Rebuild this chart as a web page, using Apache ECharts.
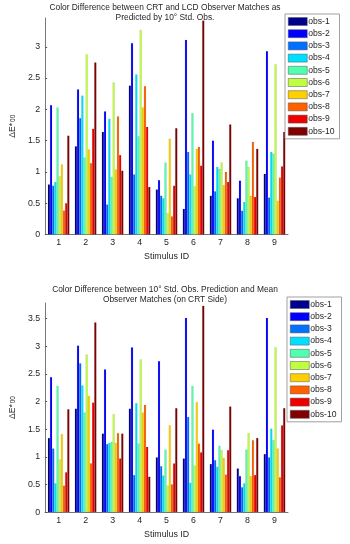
<!DOCTYPE html>
<html>
<head>
<meta charset="utf-8">
<script src="https://cdn.jsdelivr.net/npm/echarts@6/dist/echarts.min.js"></script>
<style>
html,body{margin:0;padding:0;background:#fff;}
#c1,#c2{width:350px;height:272px;}
</style>
</head>
<body>
<div id="c1"></div>
<div id="c2"></div>
<script>
// ---- data ----
var categories = ['1','2','3','4','5','6','7','8','9'];
var observers = ['obs-1','obs-2','obs-3','obs-4','obs-5','obs-6','obs-7','obs-8','obs-9','obs-10'];
var yTicksTop = [0, 0.5, 1, 1.5, 2, 2.5, 3];
var yTicksBottom = [0, 0.5, 1, 1.5, 2, 2.5, 3, 3.5];
var titleTop = 'Color Difference between CRT and LCD Observer Matches as\nPredicted by 10° Std. Obs.';
var titleBottom = 'Color Difference between 10° Std. Obs. Prediction and Mean\nObserver Matches (on CRT Side)';
var xName = 'Stimulus ID';

// top chart: rows = observers, columns = stimulus 1..9
var top_obs1  = [0.80, 1.41, 1.64, 2.38, 0.72, 0.41, 0.62, 0.58, 0.97];
var top_obs2  = [2.07, 2.32, 1.97, 3.06, 0.87, 3.11, 1.50, 0.86, 2.93];
var top_obs3  = [0.78, 1.86, 0.48, 0.96, 0.62, 1.32, 0.69, 0.38, 0.59];
var top_obs4  = [0.84, 2.22, 1.85, 2.56, 0.58, 0.96, 1.08, 0.52, 1.32];
var top_obs5  = [2.03, 1.23, 0.92, 1.57, 1.15, 1.94, 1.05, 1.18, 1.29];
var top_obs6  = [0.93, 2.88, 2.43, 3.27, 0.34, 0.77, 1.15, 1.08, 2.72];
var top_obs7  = [1.12, 1.36, 1.04, 2.03, 1.53, 1.37, 0.79, 0.62, 0.54];
var top_obs8  = [0.38, 1.14, 1.89, 2.37, 0.29, 1.40, 1.00, 1.48, 0.91];
var top_obs9  = [0.50, 1.69, 1.27, 1.72, 0.78, 1.10, 0.84, 0.60, 1.09];
var top_obs10 = [1.58, 2.75, 1.02, 0.76, 1.70, 3.42, 1.76, 1.37, 1.64];

// bottom chart
var bot_obs1  = [1.34, 1.87, 1.42, 1.87, 0.99, 0.97, 0.87, 0.79, 1.05];
var bot_obs2  = [2.44, 3.01, 2.58, 2.98, 2.73, 3.51, 1.49, 0.65, 3.51];
var bot_obs3  = [1.15, 2.69, 1.23, 0.67, 0.83, 1.72, 0.94, 0.45, 0.99];
var bot_obs4  = [0.52, 2.29, 1.25, 1.97, 0.66, 0.53, 0.82, 0.52, 1.51];
var bot_obs5  = [2.28, 1.80, 1.27, 1.24, 1.13, 2.28, 1.20, 1.13, 1.30];
var bot_obs6  = [0.95, 2.85, 1.77, 2.76, 0.48, 0.84, 1.12, 1.43, 2.98];
var bot_obs7  = [1.41, 2.10, 1.25, 1.80, 1.57, 1.99, 0.98, 0.65, 1.15];
var bot_obs8  = [0.48, 0.88, 1.43, 1.94, 0.50, 1.24, 0.68, 1.30, 0.63];
var bot_obs9  = [0.72, 1.98, 0.97, 1.18, 0.88, 1.08, 1.12, 0.67, 1.57];
var bot_obs10 = [1.86, 3.43, 1.42, 0.64, 1.88, 3.73, 1.91, 1.34, 1.88];

var topData = [top_obs1, top_obs2, top_obs3, top_obs4, top_obs5, top_obs6, top_obs7, top_obs8, top_obs9, top_obs10];
var botData = [bot_obs1, bot_obs2, bot_obs3, bot_obs4, bot_obs5, bot_obs6, bot_obs7, bot_obs8, bot_obs9, bot_obs10];

// ---- styles ----
var jetColors = ['#00008F','#0000FF','#0070FF','#00DFFF','#50FFAF','#BFFF40','#FFCF00','#FF6000','#EF0000','#800000'];
var FONT = '"Liberation Sans", Arial, sans-serif';
var TXT = '#262626';

function makeOption(title, data, ticks, yMax, layout) {
  return {
    animation: false,
    color: jetColors,
    title: {
      text: title,
      left: layout.titleX, top: layout.titleTop, textAlign: 'center',
      textStyle: {fontFamily: FONT, fontSize: 8.4, fontWeight: 'normal', color: TXT, lineHeight: layout.titleLH}
    },
    legend: {
      orient: 'vertical',
      left: layout.legLeft, top: layout.legTop,
      data: observers,
      itemWidth: 19, itemHeight: 8, itemGap: 3.2,
      padding: [3, 5, 3, 3],
      borderColor: '#888', borderWidth: 0.8, backgroundColor: '#fff',
      borderRadius: 0,
      icon: 'rect',
      itemStyle: {borderColor: '#555', borderWidth: 0.5},
      textStyle: {fontFamily: FONT, fontSize: 8.6, color: TXT, padding: [0, 0, 0, -4], lineHeight: 8}
    },
    grid: {left: 33, top: layout.gridTop, width: 255, height: layout.gridH},
    xAxis: {
      type: 'category', data: categories,
      name: xName, nameLocation: 'middle', nameGap: 16,
      nameTextStyle: {fontFamily: FONT, fontSize: 8.8, color: TXT},
      axisLine: {lineStyle: {color: '#555', width: 0.8}},
      axisTick: {inside: true, alignWithLabel: true, length: 2, lineStyle: {color: '#555'}},
      axisLabel: {fontFamily: FONT, fontSize: 8.8, color: TXT, margin: 4},
      splitLine: {show: false}
    },
    yAxis: {
      type: 'value', min: 0, max: yMax, interval: 0.5,
      name: '{d|ΔE*}{s|00}', nameLocation: 'middle', nameGap: 20, nameRotate: 90,
      nameTextStyle: {
        rich: {
          d: {fontFamily: FONT, fontSize: 8.6, color: TXT},
          s: {fontFamily: FONT, fontSize: 6.5, color: TXT, verticalAlign: 'bottom', padding: [0,0,0,1]}
        }
      },
      axisLine: {show: true, lineStyle: {color: '#555', width: 0.8}},
      axisTick: {show: true, inside: true, length: 2, lineStyle: {color: '#555'}},
      axisLabel: {fontFamily: FONT, fontSize: 8.8, color: TXT, margin: 5, showMaxLabel: false,
        formatter: function (v) { return ticks.indexOf(v) >= 0 ? String(v) : ''; }},
      splitLine: {show: false}
    },
    series: observers.map(function (n, i) {
      return {
        name: n, type: 'bar', data: data[i],
        barGap: '0%', barCategoryGap: '20%',
        itemStyle: {color: jetColors[i], borderColor: 'rgba(0,0,0,0.25)', borderWidth: 0.3}
      };
    })
  };
}

var c1 = echarts.init(document.getElementById('c1'), null, {renderer: 'canvas'});
c1.setOption(makeOption(titleTop, topData, yTicksTop, 3.46,
  {titleX: 160, titleTop: -2, titleLH: 9.5, legLeft: 285, legTop: 14, gridTop: 18, gridH: 216.5}));
var c2 = echarts.init(document.getElementById('c2'), null, {renderer: 'canvas'});
c2.setOption(makeOption(titleBottom, botData, yTicksBottom, 3.78,
  {titleX: 160, titleTop: 7, titleLH: 10.5, legLeft: 287, legTop: 25, gridTop: 31, gridH: 217}));
</script>
</body>
</html>
